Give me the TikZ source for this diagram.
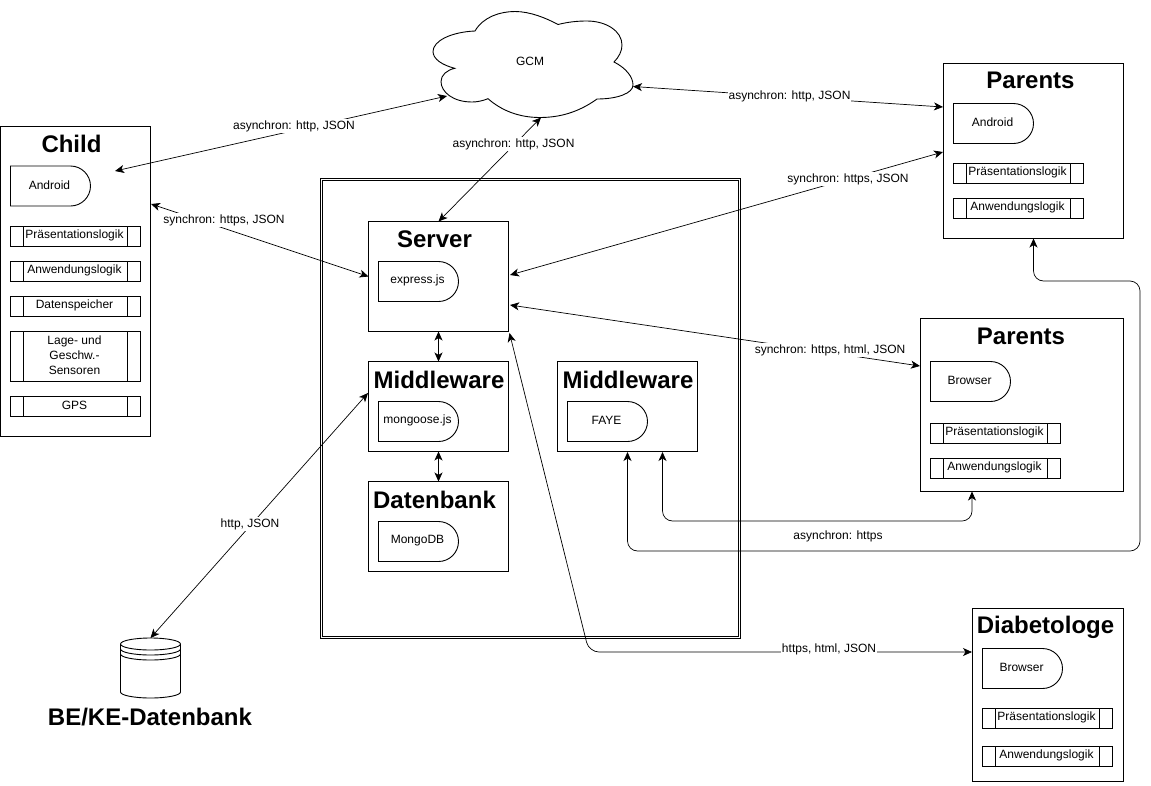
\documentclass[tikz,border=0pt]{standalone}
\usepackage{fontspec}
\setmainfont{Liberation Sans}
\usetikzlibrary{arrows.meta,calc}
\tikzset{
  shp/.style={draw=black,line width=0.9pt,fill=white},
  frame/.style={shp,rectangle,anchor=north west,inner sep=0pt,outer sep=0pt},
  ttl/.style={font=\bfseries\fontsize{24}{26}\selectfont,inner sep=0pt},
  txt/.style={font=\fontsize{12}{15}\selectfont,inner sep=0pt,align=center},
  lbl/.style={font=\fontsize{12}{15}\selectfont,fill=white,inner sep=1pt},
  tipd/.tip={Stealth[length=9pt,width=8pt,inset=2.5pt]},
  conn/.style={line width=0.7pt,draw=black},
  both/.style={conn,tipd-tipd},
  elbow/.style={conn,rounded corners=10pt}
}
\newcommand{\delaybox}[4]{%
  \draw[shp,shift={(#2,#3)}] (0,0) -- (60,0) .. controls (71,0) and (80,9) .. (80,20)
    .. controls (80,31) and (71,40) .. (60,40) -- (0,40) -- cycle;
  \node[txt] (#1) at ($(#2,#3)+(39,19)$) {#4};}
\newcommand{\procbox}[5]{%
  \node[frame,minimum width=130pt,minimum height=#4pt] (#1) at (#2,#3) {};
  \draw[shp] ($(#1.north west)+(13,0)$) -- ($(#1.south west)+(13,0)$);
  \draw[shp] ($(#1.north east)+(-13,0)$) -- ($(#1.south east)+(-13,0)$);
  \node[txt] (#1t) at ($(#1.center)+(-1,-1)$) {#5};}
\newcommand{\bigbox}[5]{\node[frame,minimum width=#4pt,minimum height=#5pt] (#1) at (#2,#3) {};}
\begin{document}
\begin{tikzpicture}[x=1pt,y=-1pt]
\useasboundingbox (0,0) rectangle (1151,785);
% outer double frame
\node[frame,fill=none,minimum width=420pt,minimum height=459.5pt] (outer) at (320.5,178.5) {};
\node[frame,fill=none,minimum width=416.5pt,minimum height=456pt] (outerb) at (322.3,180.2) {};
% cloud
\draw[shp] (475,31) .. controls (483,17) and (500,11.5) .. (515,11.5)
  .. controls (530,11.5) and (546,18) .. (558,24.5)
  .. controls (568,22) and (577,21) .. (587,21)
  .. controls (606,21) and (622,31) .. (622,45)
  .. controls (622,51) and (619,57) .. (614,62)
  .. controls (626,68) and (633,77) .. (633,85)
  .. controls (633,93) and (618,99) .. (597,99)
  .. controls (583,109) and (565,117.5) .. (540,117.5)
  .. controls (518,117.5) and (501,110) .. (488,98.7)
  .. controls (482,101) and (477,102) .. (472,102)
  .. controls (453,102) and (441,92) .. (441,81.5)
  .. controls (441,75) and (447,70) .. (454.7,68.3)
  .. controls (442,65) and (433,59) .. (433,51.5)
  .. controls (433,41) and (451,32) .. (475,31) -- cycle;
\node[txt] (gcm) at (530,61) {GCM};
% child
\bigbox{child}{0.5}{126.5}{150}{310}
\node[ttl] (childt) at (71.5,143.5) {Child};
\delaybox{childa}{10.5}{166}{Android}
\procbox{cp1}{10.5}{226.5}{20}{Präsentationslogik}
\procbox{cp2}{10.5}{261.5}{20}{Anwendungslogik}
\procbox{cp3}{10.5}{296.5}{20}{Datenspeicher}
\procbox{cp4}{10.5}{331.5}{50}{Lage- und\\Geschw.-\\Sensoren}
\procbox{cp5}{10.5}{396.5}{20}{GPS}
% server group
\bigbox{server}{368.5}{221.5}{140}{110}
\node[ttl] (servert) at (434.5,239.5) {Server};
\delaybox{express}{378.5}{261.5}{express.js}
\bigbox{mw}{368.5}{361.5}{140}{90}
\node[ttl] (mwt) at (439,379.5) {Middleware};
\delaybox{mongoose}{378.5}{401.5}{mongoose.js}
\bigbox{dbk}{368.5}{481.5}{140}{90}
\node[ttl] (dbkt) at (434.5,499.5) {Datenbank};
\delaybox{mongo}{378.5}{521.5}{MongoDB}
\bigbox{faye}{557.5}{361.5}{140}{90}
\node[ttl] (fayet) at (628,379.5) {Middleware};
\delaybox{fayed}{567.5}{401.5}{FAYE}
% parents 1
\bigbox{pa}{943.5}{63.5}{180}{175}
\node[ttl] (pat) at (1030.5,80.5) {Parents};
\delaybox{paa}{953.5}{103.5}{Android}
\procbox{pa1}{953.5}{163.5}{20}{Präsentationslogik}
\procbox{pa2}{953.5}{198.5}{20}{Anwendungslogik}
% parents 2
\bigbox{pb}{920.5}{318.5}{203}{173}
\node[ttl] (pbt) at (1021,336.5) {Parents};
\delaybox{pbb}{930.5}{361.5}{Browser}
\procbox{pb1}{930.5}{423.5}{20}{Präsentationslogik}
\procbox{pb2}{930.5}{458.5}{20}{Anwendungslogik}
% diabetologe
\bigbox{dia}{972.5}{608.5}{151}{173}
\node[ttl] (diat) at (1045.5,627) {Diabetologe};
\delaybox{diab}{982.5}{648.5}{Browser}
\procbox{dia1}{982.5}{708.5}{20}{Präsentationslogik}
\procbox{dia2}{982.5}{746.5}{20}{Anwendungslogik}
% database
\draw[shp] (120.5,644) .. controls (120.5,640.7) and (134,638) .. (150.5,638)
  .. controls (167,638) and (180.5,640.7) .. (180.5,644) -- (180.5,692)
  .. controls (180.5,695.3) and (167,698) .. (150.5,698)
  .. controls (134,698) and (120.5,695.3) .. (120.5,692) -- cycle;
\foreach \yy in {644,649,654}
  \draw[shp,fill=none] (120.5,\yy) .. controls (120.5,\yy+3.3) and (134,\yy+6) .. (150.5,\yy+6)
    .. controls (167,\yy+6) and (180.5,\yy+3.3) .. (180.5,\yy);
\node[minimum width=60pt,minimum height=60pt,inner sep=0pt,outer sep=0pt] (bedb) at (150.5,668) {};
\node[ttl] (bedbt) at (150,717) {BE/KE-Datenbank};
% ports
\coordinate (pChildA) at (115,171);
\coordinate (pChildE) at (151,204);
\coordinate (pCloudL) at (447,96);
\coordinate (pCloudB) at (541,117.5);
\coordinate (pCloudR) at (633,86.5);
\coordinate (pSrvE) at (510,275);
\coordinate (pSrvE2) at (510,305);
\coordinate (pSrvSE) at (509.5,333);
\coordinate (pPaA) at (943,107);
\coordinate (pPaB) at (943,152);
\coordinate (pPbW) at (920,366);
\coordinate (pPbS) at (972,491.5);
\coordinate (pMwW) at (368,393);
\coordinate (pDiaW) at (972,652);
\coordinate (pFayeA) at (627.5,452);
\coordinate (pFayeB) at (662.5,452);
% connectors
\draw[both] (pChildA) -- (pCloudL);
\draw[both] (pChildE) -- (server.west);
\draw[both] (server.north) -- (pCloudB);
\draw[both] (pCloudR) -- (pPaA);
\draw[both] (pSrvE) -- (pPaB);
\draw[both] (pSrvE2) -- (pPbW);
\draw[both] (pMwW) -- (bedb.north);
\draw[both] (server.south) -- (mw.north);
\draw[both] (mw.south) -- (dbk.north);
\draw[elbow,tipd-tipd] (pSrvSE) -- (589,652) -- (pDiaW);
\draw[elbow,tipd-tipd] (pFayeB) -- (662.5,521) -- (972,521) -- (pPbS);
\draw[elbow,tipd-tipd] (pFayeA) -- (627.5,551) -- (1140,551) -- (1140,281) -- (1033.5,281) -- (pa.south);
% labels
\node[lbl] (l1) at (294,126) {asynchron: http, JSON};
\node[lbl] (l2) at (224,220) {synchron: https, JSON};
\node[lbl] (l3) at (513.5,144) {asynchron: http, JSON};
\node[lbl] (l4) at (789.5,96) {asynchron: http, JSON};
\node[lbl] (l5) at (848,179) {synchron: https, JSON};
\node[lbl] (l6) at (830,350) {synchron: https, html, JSON};
\node[lbl] (l7) at (250,524) {http, JSON};
\node[lbl] (l8) at (829,649) {https, html, JSON};
\node[lbl,fill=none] (l9) at (838,536) {asynchron: https};
\end{tikzpicture}
\end{document}
